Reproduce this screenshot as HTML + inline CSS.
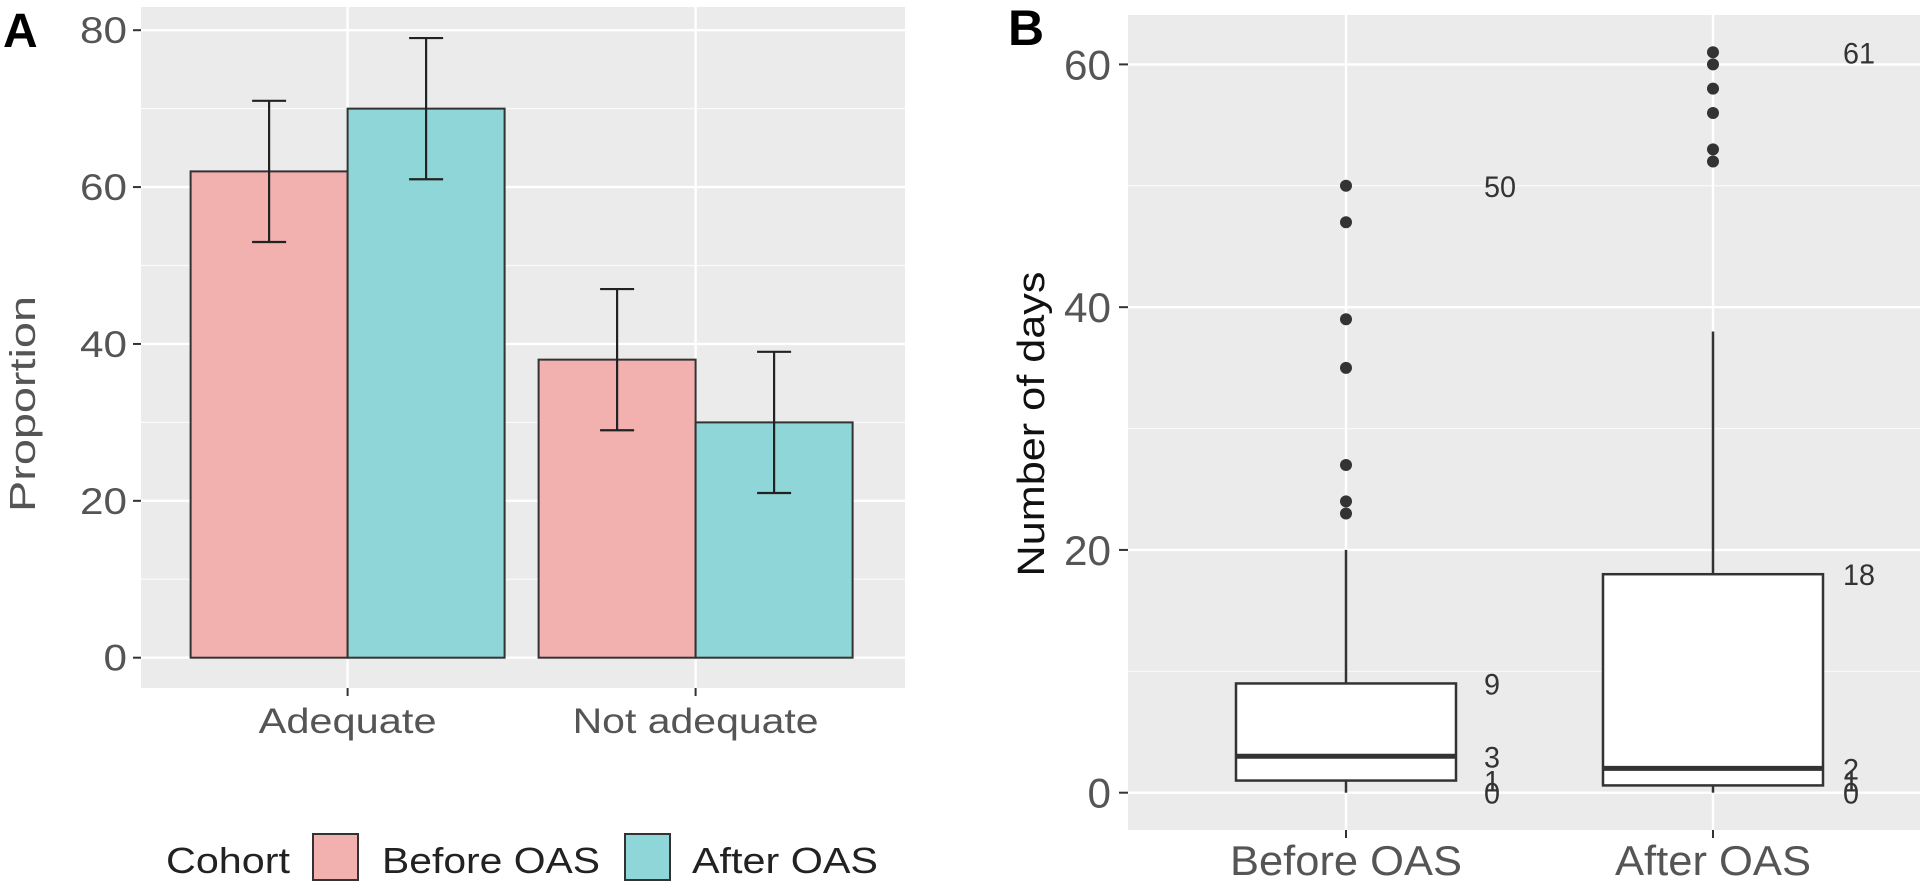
<!DOCTYPE html>
<html><head><meta charset="utf-8"><style>
html,body{margin:0;padding:0;background:#fff;}
svg{display:block;font-family:"Liberation Sans",Arial,sans-serif;}
</style></head><body>
<svg id="fig" width="1920" height="893" viewBox="0 0 1920 893">
<g id="pa"></g>
<g id="pb"></g>
</svg>
<script>
// Panel A data
const aCategories = ["Adequate", "Not adequate"];
const aCohorts = ["Before OAS", "After OAS"];
const aBefore = [62, 38];
const aAfter = [70, 30];
const aBeforeLo = [53, 29];
const aBeforeHi = [71, 47];
const aAfterLo = [61, 21];
const aAfterHi = [79, 39];
const aTicks = [0, 20, 40, 60, 80];
const aMinor = [10, 30, 50, 70];

// Panel B data
const bGroups = ["Before OAS", "After OAS"];
const bLowerWhisker = [0, 0];
const bQ1 = [1, 0.6];
const bMedian = [3, 2];
const bQ3 = [9, 18];
const bUpperWhisker = [20, 38];
const bOutliersBefore = [23, 24, 27, 35, 39, 47, 50];
const bOutliersAfter = [52, 53, 56, 58, 60, 61];
const bLabelsBefore = [50, 9, 3, 1, 0];
const bLabelsAfter = [61, 18, 2, 1, 0];
const bTicks = [0, 20, 40, 60];
const bMinor = [10, 30, 50];

const NS = "http://www.w3.org/2000/svg";
function mk(parent, tag, attrs, text) {
  const e = document.createElementNS(NS, tag);
  for (const k in attrs) e.setAttribute(k, attrs[k]);
  if (text !== undefined) e.textContent = text;
  parent.appendChild(e);
  return e;
}

// ---------- Panel A ----------
const pa = document.getElementById("pa");
const aL = 141, aR = 905, aT = 7, aB = 688;
const ay = v => 657.7 - v * (657.7 - 30.2) / 80;
const ax = i => 347.6 + i * 348;
const aBarW = 157;
let e;
e = mk(pa, "rect", {x: aL, y: aT, width: aR - aL, height: aB - aT, fill: "#ebebeb"});


aMinor.forEach(v => {
  e = mk(pa, "line", {x1: aL, x2: aR, y1: ay(v), y2: ay(v), stroke: "#fafafa", "stroke-width": 1.2});
  
  
});
aTicks.forEach(v => {
  e = mk(pa, "line", {x1: aL, x2: aR, y1: ay(v), y2: ay(v), stroke: "#fff", "stroke-width": 2.4});
  
  
  e = mk(pa, "line", {x1: aL - 8, x2: aL, y1: ay(v), y2: ay(v), stroke: "#333", "stroke-width": 2});
  
  
  e = mk(pa, "text", {x: 127, y: ay(v) + 13, "text-anchor": "end", "font-size": 37, fill: "#555", textLength: String(v).length * 23.5, lengthAdjust: "spacingAndGlyphs"}, v);
  
  
});
const aLabW = [178, 246];
aCategories.forEach((c, i) => {
  e = mk(pa, "line", {x1: ax(i), x2: ax(i), y1: aT, y2: aB, stroke: "#fff", "stroke-width": 2.4});
  
  
  e = mk(pa, "line", {x1: ax(i), x2: ax(i), y1: aB, y2: aB + 8, stroke: "#333", "stroke-width": 2});
  
  
  e = mk(pa, "text", {x: ax(i), y: 733, "text-anchor": "middle", "font-size": 35, fill: "#555", textLength: aLabW[i], lengthAdjust: "spacingAndGlyphs"}, c);
  
  
});
const series = [
  {vals: aBefore, lo: aBeforeLo, hi: aBeforeHi, fill: "#f2b0ae", off: -1},
  {vals: aAfter, lo: aAfterLo, hi: aAfterHi, fill: "#8fd6d8", off: 0}
];
series.forEach((s, si) => {
  s.vals.forEach((v, i) => {
    const x0 = ax(i) + s.off * aBarW;
    e = mk(pa, "rect", {x: x0, y: ay(v), width: aBarW, height: ay(0) - ay(v), fill: s.fill, stroke: "#333", "stroke-width": 2});
    
    
  });
});
series.forEach((s, si) => {
  s.vals.forEach((v, i) => {
    const cx = ax(i) + s.off * aBarW + aBarW / 2;
    const g = mk(pa, "g", {stroke: "#222", "stroke-width": 2.2});
    
    
    mk(g, "line", {x1: cx, x2: cx, y1: ay(s.lo[i]), y2: ay(s.hi[i])});
    mk(g, "line", {x1: cx - 17, x2: cx + 17, y1: ay(s.lo[i]), y2: ay(s.lo[i])});
    mk(g, "line", {x1: cx - 17, x2: cx + 17, y1: ay(s.hi[i]), y2: ay(s.hi[i])});
  });
});
e = mk(pa, "text", {x: 0, y: 0, transform: "translate(35,404) rotate(-90)", "text-anchor": "middle", "font-size": 36, fill: "#555", textLength: 216, lengthAdjust: "spacingAndGlyphs"}, "Proportion");


e = mk(pa, "text", {x: 3, y: 47, "font-size": 48, "font-weight": "bold", fill: "#000"}, "A");


// Legend
e = mk(pa, "text", {x: 166, y: 873, "font-size": 36, fill: "#222", textLength: 124, lengthAdjust: "spacingAndGlyphs"}, "Cohort");


const legX = [313, 625], legTX = [382, 692], legW = [218, 186], legFill = ["#f2b0ae", "#8fd6d8"];
aCohorts.forEach((c, i) => {
  e = mk(pa, "rect", {x: legX[i], y: 834, width: 45, height: 46, fill: legFill[i], stroke: "#333", "stroke-width": 2});
  
  
  e = mk(pa, "text", {x: legTX[i], y: 873, "font-size": 36, fill: "#222", textLength: legW[i], lengthAdjust: "spacingAndGlyphs"}, c);
  
  
});

// ---------- Panel B ----------
const pb = document.getElementById("pb");
const bL = 1128, bR = 1920, bT = 15, bB = 830;
const by = v => 792.7 - v * (792.7 - 64.4) / 60;
const bx = i => 1346 + i * 367;
const boxW = 220;
e = mk(pb, "rect", {x: bL, y: bT, width: bR - bL, height: bB - bT, fill: "#ebebeb"});


bMinor.forEach(v => {
  e = mk(pb, "line", {x1: bL, x2: bR, y1: by(v), y2: by(v), stroke: "#fafafa", "stroke-width": 1.2});
  
  
});
bTicks.forEach(v => {
  e = mk(pb, "line", {x1: bL, x2: bR, y1: by(v), y2: by(v), stroke: "#fff", "stroke-width": 2.4});
  
  
  e = mk(pb, "line", {x1: bL - 9, x2: bL, y1: by(v), y2: by(v), stroke: "#333", "stroke-width": 2});
  
  
  e = mk(pb, "text", {x: 1111, y: by(v) + 15, "text-anchor": "end", "font-size": 42, fill: "#555", textLength: String(v).length * 23.5, lengthAdjust: "spacingAndGlyphs"}, v);
  
  
});
bGroups.forEach((g, i) => {
  e = mk(pb, "line", {x1: bx(i), x2: bx(i), y1: bT, y2: bB, stroke: "#fff", "stroke-width": 2.4});
  
  
  e = mk(pb, "line", {x1: bx(i), x2: bx(i), y1: bB, y2: bB + 8, stroke: "#333", "stroke-width": 2});
  
  
  e = mk(pb, "text", {x: bx(i), y: 875, "text-anchor": "middle", "font-size": 42, fill: "#555", textLength: i ? 196 : 232, lengthAdjust: "spacingAndGlyphs"}, g);
  
  
});
bGroups.forEach((g, i) => {
  const cx = bx(i);
  const grp = mk(pb, "g", {stroke: "#333", "stroke-width": 2.5});
  
  
  mk(grp, "line", {x1: cx, x2: cx, y1: by(bQ3[i]), y2: by(bUpperWhisker[i])});
  mk(grp, "line", {x1: cx, x2: cx, y1: by(bQ1[i]), y2: by(bLowerWhisker[i])});
  mk(grp, "rect", {x: cx - boxW / 2, y: by(bQ3[i]), width: boxW, height: by(bQ1[i]) - by(bQ3[i]), fill: "#fff"});
  mk(grp, "line", {x1: cx - boxW / 2, x2: cx + boxW / 2, y1: by(bMedian[i]), y2: by(bMedian[i]), "stroke-width": 5});
});
[bOutliersBefore, bOutliersAfter].forEach((arr, i) => {
  arr.forEach(v => {
    e = mk(pb, "circle", {cx: bx(i), cy: by(v), r: 6, fill: "#333"});
    
    
  });
});
const labX = [1484, 1843];
[bLabelsBefore, bLabelsAfter].forEach((arr, i) => {
  arr.forEach(v => {
    e = mk(pb, "text", {x: labX[i], y: by(v) + 11, "font-size": 30, fill: "#333", textLength: String(v).length * 16, lengthAdjust: "spacingAndGlyphs"}, v);
    
    
  });
});
e = mk(pb, "text", {x: 0, y: 0, transform: "translate(1044,424) rotate(-90)", "text-anchor": "middle", "font-size": 38, fill: "#111", textLength: 305, lengthAdjust: "spacingAndGlyphs"}, "Number of days");


e = mk(pb, "text", {x: 1008, y: 45, "font-size": 50, "font-weight": "bold", fill: "#000"}, "B");


</script>
</body></html>
